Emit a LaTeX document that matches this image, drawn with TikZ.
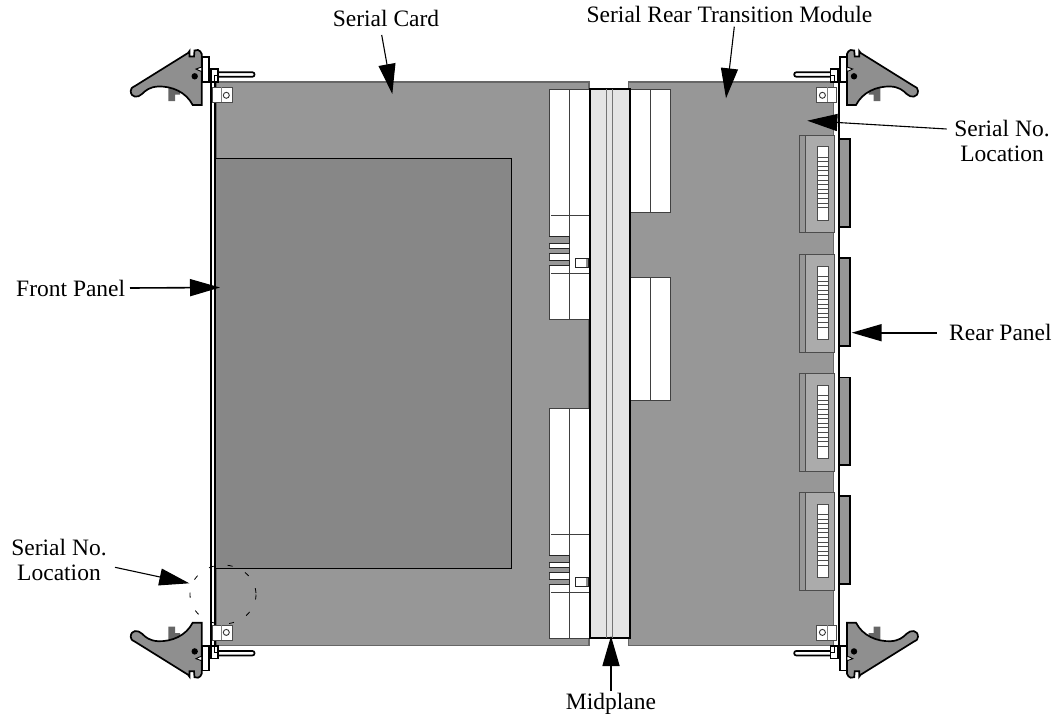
\documentclass[tikz,border=0pt]{standalone}
\usepackage{fontspec}
\setmainfont{Liberation Serif}
\usetikzlibrary{arrows.meta}
\definecolor{boardc}{HTML}{979797}
\definecolor{darkc}{HTML}{878787}
\definecolor{edgec}{HTML}{666666}
\definecolor{leverc}{HTML}{8F8F8F}
\definecolor{midc}{HTML}{E4E4E4}
\definecolor{connc}{HTML}{ABABAB}
\tikzset{
  label/.style={font=\fontsize{23.5}{24.5}\selectfont,anchor=base,inner sep=0pt,align=center},
  leader/.style={draw=black,line width=#1,-{Triangle[length=30pt,width=17pt]}},
  leader/.default=1.1pt,
  ink/.style={draw=black,line width=1.7pt,line join=miter},
  panel line/.style={draw=black,line width=2pt},
  thin ink/.style={draw=#1,line width=0.9pt},
  thin ink/.default=black!75,
}
% one lever corner, drawn for the top left and mirrored for the others
\newcommand{\leverpart}{%
  \fill[edgec] (168.3,85) -- (180,85) -- (180,94.5) -- (175,94.5) -- (175,101) -- (168.3,101) -- cycle;
  \draw[ink,fill=white] (201.7,57.3) rectangle (209,81.7);
  \draw[ink,fill=leverc] (135,86) -- (188,53) -- (189.5,51) -- (189.5,56.5) -- (194,56.5) -- (194.5,50.5) -- (198,50)
     .. controls (200,50.5) and (201,52) .. (201.7,54) -- (201.7,105) -- (192.7,105)
     .. controls (186,92) and (172,86) .. (158,86.5) .. controls (150,87) and (146,90) .. (142,94)
     .. controls (138,98) and (131,98) .. (130.7,91) .. controls (130.5,88.5) and (132,87.5) .. (135,86) -- cycle;
  \draw[thin ink=black,fill=white] (196,69) -- (201.7,67) -- (201.7,71.5) -- (199,70.5) -- cycle;
  \fill[black] (194.7,76.3) circle (3.2);
  \draw[ink,fill=white,rounded corners=2pt] (217,72.3) -- (254.5,72.3) -- (254.5,76.7) -- (217,76.7);
  \draw[ink,fill=white] (209,81.7) -- (211,81.7) -- (211,69.3) -- (218.3,69.3) -- (218.3,81.7) -- cycle;
  \draw[thin ink=black] (214,81.7) -- (214,75) -- (218.3,75);
  \draw[thin ink=black!70,fill=white] (212.3,87.3) rectangle (232.7,102.3);
  \draw[thin ink=black!50] (221,87.3) -- (221,102.3);
  \draw[thin ink=black!80] (226.3,95.3) circle (3);
}
% one left-card connector
\newcommand{\cardconn}{%
  \draw[thin ink,fill=white] (549.3,89) rectangle (589,319);
  \draw[thin ink] (569.3,89) -- (569.3,319);
  \draw[thin ink] (551,215.7) -- (589,215.7);
  \draw[thin ink] (551,273.3) -- (589,273.3);
  \foreach \a/\b in {236.7/243.3,248.3/253.3,260/265.7}{
    \fill[boardc] (548.5,\a) rectangle (569.3,\b);
    \draw[draw=black!85,line width=1pt] (549.3,\a) -- (569.3,\a) -- (569.3,\b) -- (549.3,\b);
  }
  \draw[thin ink=black!85,fill=white] (575.7,258.7) rectangle (588.3,267.3);
  \fill[black!45] (586,259.2) rectangle (588,266.8);
}
% one rear connector
\newcommand{\rearconn}{%
  \draw[thin ink=black!70,fill=boardc] (799,135) rectangle (834,232.7);
  \draw[thin ink=black!70,fill=connc] (805.7,135) rectangle (834,232.7);
  \draw[thin ink=black!70,fill=white] (817.7,146.7) rectangle (828.3,220);
  \foreach \t in {157,161.6,...,208}{\draw[draw=black!70,line width=0.7pt] (817.7,\t) -- (828.3,\t);}
  \draw[ink,fill=boardc] (839.5,139) -- (850,139) -- (850,226.7) -- (839.5,226.7);
}
\begin{document}
\begin{tikzpicture}[x=1pt,y=-1pt]
\useasboundingbox (0,0) rectangle (1060,720);
% boards
\draw[draw=edgec,line width=1.6pt,fill=boardc] (215.7,82) rectangle (589,645.5);
\draw[draw=edgec,line width=1.6pt,fill=boardc] (628.3,82) rectangle (833.5,645.5);
\draw[draw=black,line width=1pt,fill=darkc] (216,158) -- (511,158) -- (511,568) -- (216,568);
% panels
\draw[panel line] (211,81.7) -- (211,646);
\draw[panel line] (215.4,81.7) -- (215.4,646);
\draw[panel line] (839.2,81.7) -- (839.2,646);
% right board white blocks
\foreach \a/\b in {89/212.3,277.3/400.5}{
  \draw[thin ink,fill=white] (630,\a) rectangle (670,\b);
  \draw[thin ink] (650.3,\a) -- (650.3,\b);
}
% card connectors
\cardconn
\begin{scope}[shift={(0,319)}]\cardconn\end{scope}
% midplane
\draw[draw=black,line width=2pt,fill=midc] (589.7,89) rectangle (630,637.7);
\draw[thin ink=black!55] (606.7,89) -- (606.7,637.7);
\draw[thin ink=black!55] (612.7,89) -- (612.7,637.7);
% rear connectors
\foreach \o in {0,119.3,238.6,357.3}{
  \begin{scope}[shift={(0,\o)}]\rearconn\end{scope}
}
% levers
\leverpart
\begin{scope}[shift={(1048.7,0)},xscale=-1]\leverpart\end{scope}
\begin{scope}[shift={(0,727.7)},yscale=-1]\leverpart\end{scope}
\begin{scope}[shift={(1048.7,727.7)},xscale=-1,yscale=-1]\leverpart\end{scope}
% dashed location mark
\draw[draw=black,line width=0.8pt,dash pattern=on 5pt off 14pt] (223,594.5) ellipse (33 and 29.5);
% labels
\node[label] (card) at (386,27) {Serial Card};
\node[label] (rtm) at (729.5,22.7) {Serial Rear Transition Module};
\node[label] (snr) at (1002,161) {Serial No.\\Location};
\node[label,anchor=base west] (front) at (16,296.7) {Front Panel};
\node[label] (snl) at (59,580) {Serial No.\\Location};
\node[label,anchor=base west] (rear) at (949,340.7) {Rear Panel};
\node[label] (mid) at (611,709) {Midplane};
% arrow ends
\coordinate (cardS) at (381.7,35);   \coordinate (cardT) at (392.3,94);
\coordinate (rtmS) at (734.3,26.7);  \coordinate (rtmT) at (726,98.3);
\coordinate (snrS) at (946.7,129);   \coordinate (snrT) at (807.3,120.7);
\coordinate (frontS) at (130,288);   \coordinate (frontT) at (220,287.5);
\coordinate (snlS) at (115,567.3);   \coordinate (snlT) at (189.3,583.3);
\coordinate (rearS) at (936.7,332.7);\coordinate (rearT) at (851.7,332.7);
\coordinate (midS) at (611,691);     \coordinate (midT) at (611,636);
\draw[leader] (cardS) -- (cardT);
\draw[leader] (rtmS) -- (rtmT);
\draw[leader] (snrS) -- (snrT);
\draw[leader=1.6pt] (frontS) -- (frontT);
\draw[leader] (snlS) -- (snlT);
\draw[leader=1.6pt] (rearS) -- (rearT);
\draw[leader=1.6pt] (midS) -- (midT);
\end{tikzpicture}
\end{document}
